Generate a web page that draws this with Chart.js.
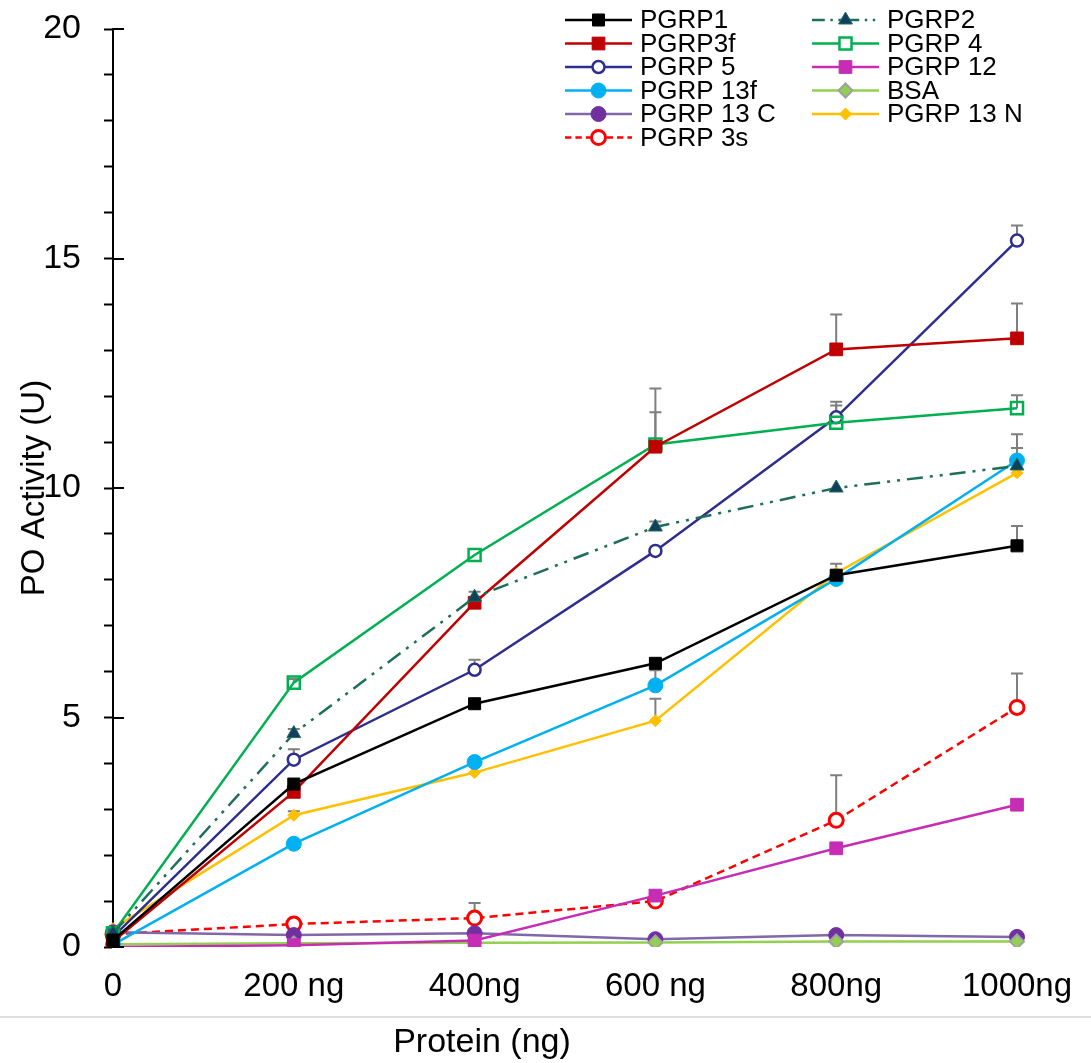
<!DOCTYPE html>
<html>
<head>
<meta charset="utf-8">
<script src="https://cdn.jsdelivr.net/npm/chart.js@4"></script>
<style>
  html, body { margin: 0; padding: 0; background: #fff; }
  canvas { display: block; }
</style>
</head>
<body>
<canvas id="chart" width="1091" height="1063"></canvas>
<script>
// dose labels on the x axis
const doses = ['0', '200 ng', '400ng', '600 ng', '800ng', '1000ng'];

// PO activity per protein (U)
const pgrp1   = [0.15, 3.55, 5.3, 6.18, 8.1, 8.74];
const pgrp2   = [0.3, 4.65, 7.62, 9.15, 10.0, 10.48];
const pgrp3f  = [0.12, 3.38, 7.5, 10.9, 13.02, 13.26];
const pgrp4   = [0.3, 5.76, 8.54, 10.95, 11.42, 11.74];
const pgrp5   = [0.22, 4.08, 6.04, 8.63, 11.54, 15.39];
const pgrp12  = [0.0, 0.04, 0.14, 1.12, 2.15, 3.1];
const pgrp13f = [0.05, 2.25, 4.03, 5.7, 8.02, 10.6];
const bsa     = [0.06, 0.08, 0.09, 0.1, 0.12, 0.12];
const pgrp13c = [0.32, 0.26, 0.3, 0.17, 0.26, 0.22];
const pgrp13n = [0.4, 2.87, 3.8, 4.93, 8.15, 10.33];
const pgrp3s  = [0.28, 0.5, 0.63, 1.0, 2.76, 5.22];

// upper error bars (null = not shown)
const err1   = [null, null, null, null, null, 0.43];
const err2   = [null, 0.1, 0.12, 0.12, null, 0.39];
const err3f  = [null, null, null, 1.27, 0.76, 0.76];
const err4   = [null, 0.08, null, 0.7, 0.38, 0.28];
const err5   = [null, 0.23, 0.22, null, 0.34, 0.33];
const err13f = [null, null, null, 0.33, null, 0.57];
const err13n = [null, 0.09, null, 0.48, 0.2, null];
const err3s  = [null, null, 0.33, null, 0.98, 0.74];

const FONT = '"Liberation Sans", Arial, sans-serif';

function serie(label, data, color, opts) {
    return Object.assign({
        label: label,
        data: data,
        borderColor: color,
        borderWidth: 2.5,
        pointBackgroundColor: color,
        pointBorderColor: color,
        pointBorderWidth: 1,
        pointStyle: 'circle',
        pointRadius: 7,
        tension: 0,
        fill: false
    }, opts || {});
}

const datasets = [
    serie('PGRP1', pgrp1, '#000000', { pointStyle: 'rect', pointRadius: 8.5, errUp: err1 }),
    serie('PGRP2', pgrp2, '#1E6E5A', { borderDash: [16, 7, 3, 7, 3, 7], pointStyle: 'triangle', pointRadius: 8, pointBackgroundColor: '#10405E', pointBorderColor: '#1E6E5A', errUp: err2 }),
    serie('PGRP3f', pgrp3f, '#C00000', { pointStyle: 'rect', pointRadius: 9, errUp: err3f }),
    serie('PGRP 4', pgrp4, '#00B050', { pointStyle: 'rect', pointRadius: 8.5, pointBackgroundColor: 'rgba(255,255,255,0)', pointBorderWidth: 2.5, errUp: err4 }),
    serie('PGRP 5', pgrp5, '#2E2E8E', { pointRadius: 6, pointBackgroundColor: '#ffffff', pointBorderWidth: 2.5, errUp: err5 }),
    serie('PGRP 12', pgrp12, '#C62DB4', { pointStyle: 'rect', pointRadius: 9 }),
    serie('PGRP 13f', pgrp13f, '#00B0F0', { pointRadius: 7.5, errUp: err13f }),
    serie('BSA', bsa, '#92D050', { pointStyle: 'rectRot', pointRadius: 7, pointBorderColor: '#A0A0A0', pointBorderWidth: 2 }),
    serie('PGRP 13 C', pgrp13c, '#8068AA', { pointRadius: 7.5, pointBackgroundColor: '#7030A0', pointBorderColor: '#7030A0' }),
    serie('PGRP 13 N', pgrp13n, '#FFC000', { pointStyle: 'rectRot', pointRadius: 6, errUp: err13n }),
    serie('PGRP 3s', pgrp3s, '#FF0000', { borderDash: [8, 5], pointRadius: 7, pointBackgroundColor: '#ffffff', pointBorderWidth: 3, errUp: err3s })
];

// barras de error (solo hacia arriba)
const errorBars = {
    id: 'errorBars',
    beforeDatasetsDraw(chart) {
        const ctx = chart.ctx;
        const y = chart.scales.y;
        ctx.save();
        ctx.strokeStyle = '#7F7F7F';
        ctx.lineWidth = 2;
        chart.data.datasets.forEach((ds, i) => {
            if (!ds.errUp) return;
            const pts = chart.getDatasetMeta(i).data;
            ds.errUp.forEach((e, j) => {
                if (e == null) return;
                const px = pts[j].x;
                const py = pts[j].y;
                const top = y.getPixelForValue(ds.data[j] + e);
                ctx.beginPath();
                ctx.moveTo(px, py);
                ctx.lineTo(px, top);
                ctx.moveTo(px - 6, top);
                ctx.lineTo(px + 6, top);
                ctx.stroke();
            });
        });
        ctx.restore();
    }
};

// parte derecha de las marcas mayores del eje y, línea gris y título del eje x
const axisExtras = {
    id: 'axisExtras',
    afterDraw(chart) {
        const ctx = chart.ctx;
        const y = chart.scales.y;
        const left = chart.chartArea.left;
        ctx.save();
        ctx.strokeStyle = '#000';
        ctx.lineWidth = 2;
        y.ticks.forEach(t => {
            if (t.value % 5 !== 0) return;
            const py = Math.round(y.getPixelForValue(t.value));
            ctx.beginPath();
            ctx.moveTo(left, py);
            ctx.lineTo(left + 11, py);
            ctx.stroke();
        });
        ctx.strokeStyle = '#D4D4D4';
        ctx.lineWidth = 1.5;
        ctx.beginPath();
        ctx.moveTo(0, 1017);
        ctx.lineTo(chart.width, 1017);
        ctx.stroke();
        ctx.fillStyle = '#000';
        ctx.font = '34px ' + FONT;
        ctx.textAlign = 'center';
        ctx.textBaseline = 'middle';
        ctx.fillText('Protein (ng)', 482, 1043);
        ctx.restore();
    }
};

// leyenda en dos columnas
const gridLegend = {
    id: 'gridLegend',
    afterDraw(chart) {
        const ctx = chart.ctx;
        const colX = [565, 812];
        const rowY = 20, rowH = 23.5, sampleW = 67;
        ctx.save();
        chart.data.datasets.forEach((ds, i) => {
            const x0 = colX[i % 2];
            const cy = rowY + Math.floor(i / 2) * rowH;
            ctx.strokeStyle = ds.borderColor;
            ctx.lineWidth = ds.borderWidth;
            ctx.setLineDash(ds.borderDash ? ds.borderDash.map(v => v * 0.8) : []);
            ctx.beginPath();
            ctx.moveTo(x0, cy);
            ctx.lineTo(x0 + sampleW, cy);
            ctx.stroke();
            ctx.setLineDash([]);
            ctx.fillStyle = ds.pointBackgroundColor === 'rgba(255,255,255,0)' ? '#ffffff' : ds.pointBackgroundColor;
            ctx.strokeStyle = ds.pointBorderColor;
            ctx.lineWidth = ds.pointBorderWidth;
            Chart.helpers.drawPoint(ctx, {
                pointStyle: ds.pointStyle,
                radius: ds.pointRadius,
                borderWidth: ds.pointBorderWidth,
                rotation: 0
            }, x0 + sampleW / 2, cy);
            ctx.fillStyle = '#000';
            ctx.font = '26px ' + FONT;
            ctx.textBaseline = 'middle';
            ctx.textAlign = 'left';
            ctx.fillText(ds.label, x0 + sampleW + 8, cy + 1);
        });
        ctx.restore();
    }
};

new Chart(document.getElementById('chart').getContext('2d'), {
    type: 'line',
    data: { labels: doses, datasets: datasets },
    plugins: [errorBars, axisExtras, gridLegend],
    options: {
        responsive: false,
        animation: false,
        layout: { padding: { top: 29, right: 74, bottom: 0, left: 0 } },
        plugins: {
            legend: { display: false },
            tooltip: { enabled: false }
        },
        scales: {
            x: {
                type: 'category',
                offset: false,
                grid: { display: false },
                border: { display: false },
                ticks: {
                    color: '#000',
                    font: { family: FONT, size: 33 },
                    padding: 12,
                    maxRotation: 0,
                    autoSkip: false
                },
                title: { display: false },
                afterFit: s => { s.height = 116; }
            },
            y: {
                min: 0,
                max: 20,
                grid: {
                    display: true,
                    drawOnChartArea: false,
                    drawTicks: true,
                    tickLength: 9,
                    tickColor: '#000',
                    tickWidth: 2
                },
                border: { display: true, color: '#000', width: 2 },
                ticks: {
                    stepSize: 1,
                    autoSkip: false,
                    color: '#000',
                    font: { family: FONT, size: 34 },
                    padding: 23,
                    callback: v => (v % 5 === 0 ? v : '')
                },
                title: {
                    display: true,
                    text: 'PO Activity (U)',
                    color: '#000',
                    font: { family: FONT, size: 33 },
                    padding: { top: 15, bottom: 0 }
                },
                afterFit: s => {
                    s.width = 113;
                    s.paddingTop = 0;
                    s.paddingBottom = 0;
                }
            }
        }
    }
});
</script>
</body>
</html>
